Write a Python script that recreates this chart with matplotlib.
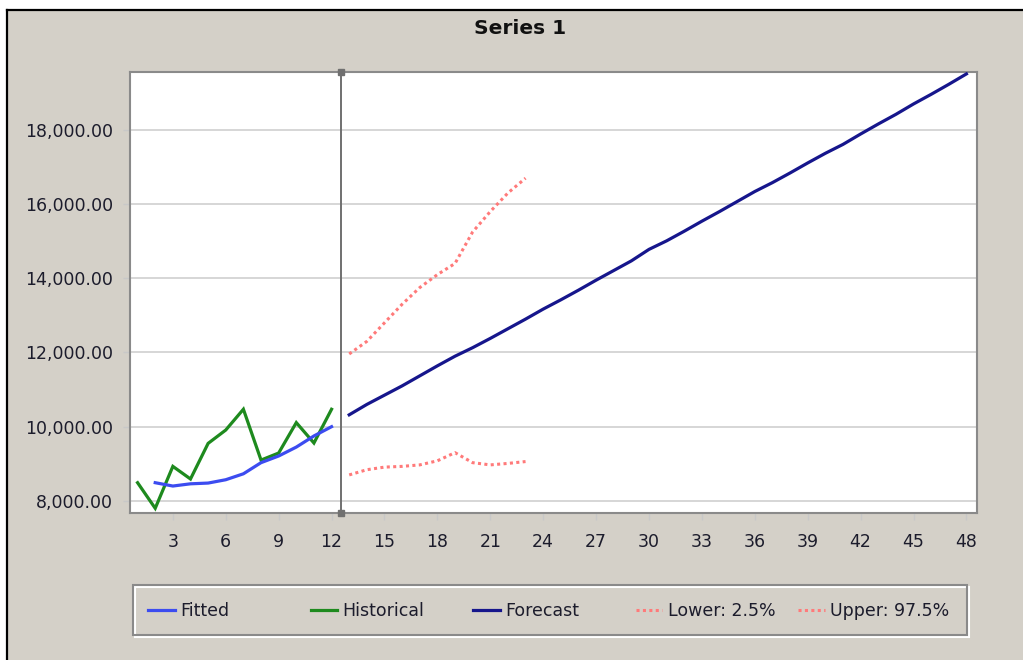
import numpy as np
import matplotlib
matplotlib.use("Agg")
import matplotlib.pyplot as plt
from matplotlib.patches import Rectangle
from matplotlib.lines import Line2D
from matplotlib.ticker import FuncFormatter

# --- data ---
hist_x = list(range(1, 13))
hist_y = [8490, 7800, 8930, 8590, 9550, 9910, 10470, 9100, 9290, 10110, 9560, 10470]

fit_x = list(range(2, 13))
fit_y = [8490, 8400, 8460, 8480, 8570, 8730, 9030, 9210, 9450, 9750, 10000]

fc_x = list(range(13, 49))
fc_y = [10320, 10600, 10850, 11100, 11370, 11640, 11900, 12130, 12380, 12640,
        12900, 13170, 13420, 13680, 13950, 14210, 14470, 14780, 15010, 15270,
        15540, 15800, 16070, 16340, 16580, 16840, 17110, 17370, 17610, 17890,
        18160, 18420, 18700, 18960, 19230, 19510]

band_x = list(range(13, 24))
lower_y = [8700, 8840, 8910, 8930, 8970, 9080, 9300, 9030, 8970, 9010, 9060]
upper_y = [11960, 12300, 12800, 13300, 13750, 14100, 14400, 15250, 15800, 16300, 16700]

x_ticks = list(range(3, 49, 3))
y_ticks = [8000, 10000, 12000, 14000, 16000, 18000]

labels = ["Fitted", "Historical", "Forecast", "Lower: 2.5%", "Upper: 97.5%"]

# --- colours ---
bg = "#d4d0c8"
c_fit = "#3c4cf0"
c_hist = "#1e8a1e"
c_fc = "#16168c"
c_band = "#ff7a7a"
txt = "#1c1c2c"

W, H = 1023, 660
fig = plt.figure(figsize=(W / 100, H / 100), dpi=100, facecolor="white")

# window background with black top/left edge
fig.patches.append(Rectangle((7 / W, 0), 1, 1 - 10 / H, transform=fig.transFigure,
                             facecolor=bg, edgecolor="none", zorder=-10))
fig.add_artist(Line2D([7 / W, 1], [1 - 10 / H, 1 - 10 / H], color="black", lw=1.6))
fig.add_artist(Line2D([7 / W, 7 / W], [0, 1 - 10 / H], color="black", lw=1.6))

ax = fig.add_axes([130 / W, 1 - 513.3 / H, (977 - 130) / W, (513.3 - 71.7) / H])
ax.set_facecolor("white")

ax.plot(hist_x, hist_y, color=c_hist, lw=2.3, solid_joinstyle="miter", zorder=3)
ax.plot(fit_x, fit_y, color=c_fit, lw=2.3, zorder=4)
ax.plot(fc_x, fc_y, color=c_fc, lw=2.3, zorder=3)
ax.plot(band_x, lower_y, color=c_band, lw=2.2, ls=(0, (1, 1.1)), zorder=3)
ax.plot(band_x, upper_y, color=c_band, lw=2.2, ls=(0, (1, 1.1)), zorder=3)

ax.set_xlim(0.57, 48.6)
ax.set_ylim(7665, 19570)

# divider between history and forecast
divider_x = 12.56
ax.axvline(divider_x, color="#707070", lw=1.4, zorder=2)
ax.plot([divider_x, divider_x], [0, 1], transform=ax.get_xaxis_transform(),
        ls="none", marker="s", ms=4, color="#707070", clip_on=False, zorder=5)

ax.set_xticks(x_ticks)
ax.set_yticks(y_ticks)
ax.yaxis.set_major_formatter(FuncFormatter(lambda v, p: f"{v:,.2f}"))
ax.grid(axis="y", color="#d6d6d6", lw=1.4, zorder=0)
ax.set_axisbelow(True)

for s in ax.spines.values():
    s.set_color("#8a8a8a")
    s.set_linewidth(1.5)

ax.tick_params(axis="both", colors="#c8c8c8", labelcolor=txt, labelsize=12.5,
               length=5, width=1)
ax.tick_params(axis="y", pad=7)
ax.tick_params(axis="x", pad=9)

fig.text(520 / W, 1 - 28 / H, "Series 1", ha="center", va="center",
         fontsize=14.5, fontweight="bold", color="#111111")

# --- legend box (etched frame) ---
lx0, lx1, ly0, ly1 = 133, 967, 585, 635
fig.patches.append(Rectangle(((lx0 + 1.5) / W, 1 - (ly1 + 1.5) / H), (lx1 - lx0) / W,
                             (ly1 - ly0) / H, transform=fig.transFigure,
                             facecolor="none", edgecolor="white", lw=1.5))
fig.patches.append(Rectangle((lx0 / W, 1 - ly1 / H), (lx1 - lx0) / W, (ly1 - ly0) / H,
                             transform=fig.transFigure, facecolor="none",
                             edgecolor="#8a8a8a", lw=1.5))

handles = [
    Line2D([], [], color=c_fit, lw=2.3),
    Line2D([], [], color=c_hist, lw=2.3),
    Line2D([], [], color=c_fc, lw=2.3),
    Line2D([], [], color=c_band, lw=2.2, ls=(0, (1, 1.1))),
    Line2D([], [], color=c_band, lw=2.2, ls=(0, (1, 1.1))),
]
for i, (h, lab) in enumerate(zip(handles, labels)):
    leg = fig.legend([h], [lab], loc="center left",
                     bbox_to_anchor=((148 + i * 162.5) / W, 1 - 611 / H),
                     frameon=False, borderpad=0, borderaxespad=0,
                     handlelength=1.55, handletextpad=0.3, fontsize=12.5)
    for t in leg.get_texts():
        t.set_color(txt)

fig.savefig("out.png", dpi=100, facecolor=fig.get_facecolor())
